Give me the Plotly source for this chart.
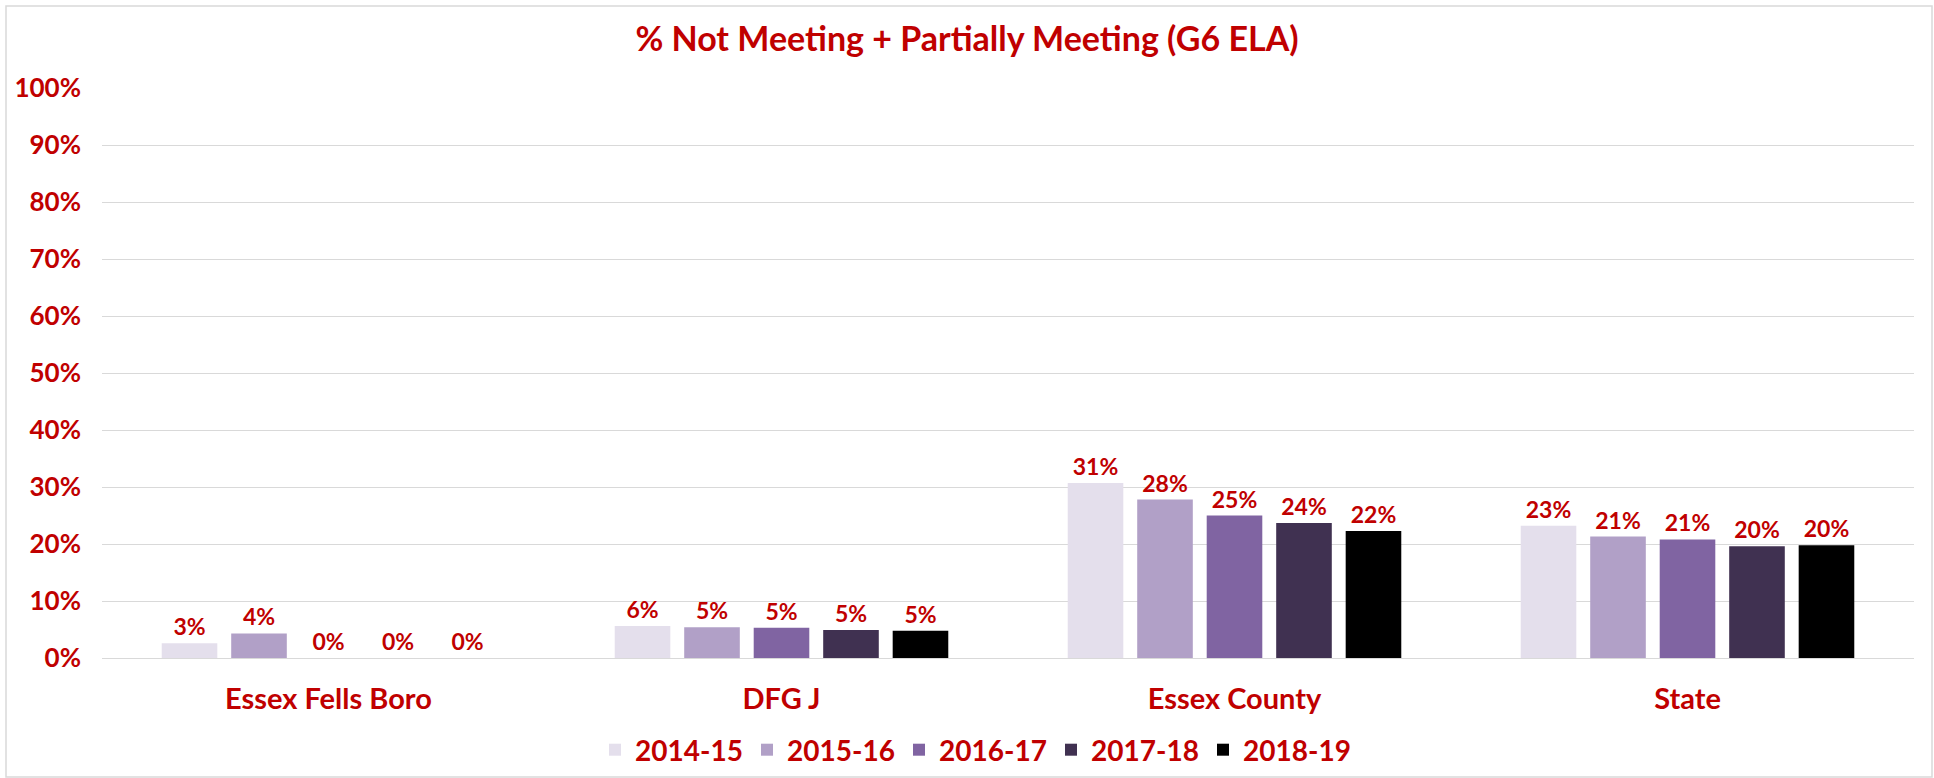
import plotly.graph_objects as go

categories = ["Essex Fells Boro", "DFG J", "Essex County", "State"]
years = ["2014-15", "2015-16", "2016-17", "2017-18", "2018-19"]
v_2014_15 = [0.026, 0.056, 0.307, 0.232]
v_2015_16 = [0.043, 0.054, 0.278, 0.213]
v_2016_17 = [0.0, 0.053, 0.250, 0.208]
v_2017_18 = [0.0, 0.049, 0.237, 0.196]
v_2018_19 = [0.0, 0.048, 0.223, 0.198]
series = [v_2014_15, v_2015_16, v_2016_17, v_2017_18, v_2018_19]
colors = ["#E4DFEC", "#B1A0C7", "#8064A2", "#403151", "#000000"]
tick_vals = [0, 0.1, 0.2, 0.3, 0.4, 0.5, 0.6, 0.7, 0.8, 0.9, 1.0]
tick_text = ["0%", "10%", "20%", "30%", "40%", "50%", "60%", "70%", "80%", "90%", "100%"]

RED = "#C00000"
FONT = "Lato"

fig = go.Figure()
for name, vals, col in zip(years, series, colors):
    fig.add_trace(go.Bar(
        x=categories, y=vals, name=name,
        marker=dict(color=col, line=dict(width=0)),
        texttemplate="%{y:.0%}", textposition="outside",
        textfont=dict(color=RED, size=23, family=FONT, weight="bold"),
        cliponaxis=False, hoverinfo="skip",
    ))

W, H = 1934, 778
L, R, T, B = 102, 20, 88, 120
pw, ph = W - L - R, H - T - B

def px_x(x):
    return (x - L) / pw

def px_y(y):
    return (H - B - y) / ph

fig.update_layout(
    width=W, height=H,
    margin=dict(l=L, r=R, t=T, b=B, autoexpand=False),
    paper_bgcolor="white", plot_bgcolor="white",
    barmode="group", bargap=0.233, bargroupgap=0.2,
    title=dict(text="% Not Meeting + Partially Meeting (G6 ELA)",
               x=0.5, xanchor="center", y=1 - 39 / H, yanchor="middle",
               font=dict(color=RED, size=34, family=FONT, weight="bold")),
    yaxis=dict(range=[0, 1], tickvals=tick_vals, ticktext=tick_text,
               showgrid=True, gridcolor="#D9D9D9", gridwidth=1,
               zeroline=True, zerolinecolor="#D9D9D9", zerolinewidth=1,
               showline=False, ticks="", ticklabelstandoff=20, automargin=False,
               tickfont=dict(color=RED, size=26, family=FONT, weight="bold")),
    xaxis=dict(showline=False, ticks="", ticklabelstandoff=21, automargin=False,
               tickfont=dict(color=RED, size=29, family=FONT, weight="bold")),
    legend=dict(orientation="h", x=px_x(595), xanchor="left",
                y=px_y(750), yanchor="middle",
                entrywidth=107, entrywidthmode="pixels",
                font=dict(color=RED, size=28, family=FONT, weight="bold"),
                traceorder="normal", itemclick=False, itemdoubleclick=False),
    showlegend=True,
    shapes=[dict(type="rect", xref="paper", yref="paper",
                 x0=px_x(6), x1=px_x(1932), y0=px_y(777), y1=px_y(6),
                 line=dict(color="#D9D9D9", width=1.5), fillcolor="rgba(0,0,0,0)",
                 layer="below")],
)

fig.write_html("out.html", config={"displayModeBar": False},
               post_script="document.body.style.margin='0';document.body.style.overflow='hidden';")
